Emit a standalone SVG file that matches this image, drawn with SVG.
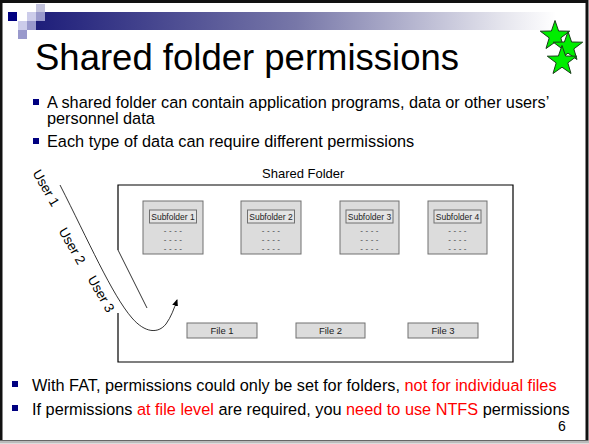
<svg xmlns="http://www.w3.org/2000/svg" width="589" height="444" viewBox="0 0 589 444">
<style>
text{font-family:"Liberation Sans",Arial,sans-serif;fill:#000}
.title{font-size:36.5px}
.b{font-size:16.3px}
.red{fill:#ff0000}
.sf{fill:#dcdcdc;stroke:#707070;stroke-width:1}
.lbl{fill:#e4e4e4;stroke:#707070;stroke-width:1}
.small{font-size:8.5px;fill:#222}
.dash{font-size:8px;fill:#333;letter-spacing:2.5px}
.file{font-size:9.5px;fill:#222}
.user{font-size:13.5px}
.bul{fill:#000080}
.conn{fill:none;stroke:#000;stroke-width:0.8}
</style>
<defs>
<linearGradient id="bar" x1="0" y1="0" x2="1" y2="0">
<stop offset="0" stop-color="#1e1e7a"/>
<stop offset="0.5" stop-color="#7777a8"/>
<stop offset="0.9" stop-color="#e6e6ee"/>
<stop offset="1" stop-color="#ffffff"/>
</linearGradient>
<marker id="arr" markerWidth="8" markerHeight="8" refX="6" refY="4" orient="auto" markerUnits="userSpaceOnUse">
<path d="M0,1 L7,4 L0,7 Z" fill="#000"/>
</marker>
<polygon id="star" points="0,-15.5 3.6,-5 14.7,-4.8 5.8,1.9 9,12.5 0,6.2 -9,12.5 -5.8,1.9 -14.7,-4.8 -3.6,-5" fill="#00ee00" stroke="#1a3a1a" stroke-width="1"/>
</defs>
<rect x="0" y="0" width="589" height="444" fill="#fff"/>
<rect x="1" y="1.5" width="586" height="440" fill="none" stroke="#111" stroke-width="3"/>
<line x1="0" y1="442" x2="589" y2="442" stroke="#bbb" stroke-width="3"/>

<g id="decor">
<rect x="36" y="12" width="520" height="18" fill="url(#bar)"/>
<rect x="8" y="12" width="9" height="9" fill="#000080"/>
<rect x="36" y="4" width="9" height="8" fill="#c4c4dd"/>
<rect x="27" y="12" width="9" height="9" fill="#ccccea"/>
<rect x="36" y="12" width="9" height="9" fill="#9999cc"/>
<rect x="18" y="21" width="9" height="9" fill="#ccccea"/>
<rect x="27" y="21" width="9" height="9" fill="#9999cc"/>
<rect x="18" y="30" width="9" height="9" fill="#9999cc"/>
</g>

<text class="title" x="35" y="70">Shared folder permissions</text>

<g id="stars">
<use href="#star" x="555" y="36"/>
<use href="#star" x="568" y="47"/>
<use href="#star" x="562" y="61"/>
</g>

<g id="bullets-top">
<rect class="bul" x="33" y="99" width="6" height="6"/>
<text class="b" x="47" y="108">A shared folder can contain application programs, data or other users’</text>
<text class="b" x="47" y="124">personnel data</text>
<rect class="bul" x="33" y="138" width="6" height="6"/>
<text class="b" x="47" y="147">Each type of data can require different permissions</text>
</g>

<g id="shared-folder">
<text x="262" y="178" font-size="13">Shared Folder</text>
<path d="M118,250 L118,185 L513,185 L513,362 L118,362 L118,313" fill="none" stroke="#000" stroke-width="1.2"/>
<line x1="118" y1="250" x2="147" y2="308" stroke="#000" stroke-width="0.8"/>
</g>

<g id="subfolder1">
<rect class="sf" x="143" y="201" width="60" height="53"/>
<rect class="lbl" x="149.5" y="210" width="47" height="13"/>
<text class="small" x="173" y="219.5" text-anchor="middle">Subfolder 1</text>
<text class="dash" x="174.2" y="233" text-anchor="middle">----</text>
<text class="dash" x="174.2" y="242" text-anchor="middle">----</text>
<text class="dash" x="174.2" y="251" text-anchor="middle">----</text>
</g>
<g id="subfolder2">
<rect class="sf" x="241" y="201" width="60" height="53"/>
<rect class="lbl" x="247.5" y="210" width="47" height="13"/>
<text class="small" x="271" y="219.5" text-anchor="middle">Subfolder 2</text>
<text class="dash" x="272.2" y="233" text-anchor="middle">----</text>
<text class="dash" x="272.2" y="242" text-anchor="middle">----</text>
<text class="dash" x="272.2" y="251" text-anchor="middle">----</text>
</g>
<g id="subfolder3">
<rect class="sf" x="340" y="201" width="59" height="53"/>
<rect class="lbl" x="346" y="210" width="47" height="13"/>
<text class="small" x="369.5" y="219.5" text-anchor="middle">Subfolder 3</text>
<text class="dash" x="370.7" y="233" text-anchor="middle">----</text>
<text class="dash" x="370.7" y="242" text-anchor="middle">----</text>
<text class="dash" x="370.7" y="251" text-anchor="middle">----</text>
</g>
<g id="subfolder4">
<rect class="sf" x="428" y="201" width="59" height="53"/>
<rect class="lbl" x="434" y="210" width="47" height="13"/>
<text class="small" x="457.5" y="219.5" text-anchor="middle">Subfolder 4</text>
<text class="dash" x="458.7" y="233" text-anchor="middle">----</text>
<text class="dash" x="458.7" y="242" text-anchor="middle">----</text>
<text class="dash" x="458.7" y="251" text-anchor="middle">----</text>
</g>

<g id="file1">
<rect class="sf" x="187" y="323" width="70" height="15"/>
<text class="file" x="222" y="334" text-anchor="middle">File 1</text>
</g>
<g id="file2">
<rect class="sf" x="296" y="323" width="69" height="15"/>
<text class="file" x="330.5" y="334" text-anchor="middle">File 2</text>
</g>
<g id="file3">
<rect class="sf" x="408" y="323" width="70" height="15"/>
<text class="file" x="443" y="334" text-anchor="middle">File 3</text>
</g>

<g id="users">
<text class="user" transform="translate(46,188) rotate(60)" x="0" y="4.5" text-anchor="middle">User 1</text>
<text class="user" transform="translate(72,246) rotate(60)" x="0" y="4.5" text-anchor="middle">User 2</text>
<text class="user" transform="translate(101,294) rotate(60)" x="0" y="4.5" text-anchor="middle">User 3</text>
</g>

<g id="connectors">
<path class="conn" d="M60,185 C88,240 112,295 132,318 C145,333 158,334 166,324 C171,317 174,309 177,300" marker-end="url(#arr)"/>
</g>

<g id="bullets-bottom">
<rect class="bul" x="12" y="381" width="6" height="6"/>
<text class="b" x="32" y="391">With FAT, permissions could only be set for folders, <tspan class="red">not for individual files</tspan></text>
<rect class="bul" x="12" y="405" width="6" height="6"/>
<text class="b" x="32" y="415">If permissions <tspan class="red">at file level</tspan> are required, you <tspan class="red">need to use NTFS</tspan> permissions</text>
<text x="562" y="431" font-size="14" text-anchor="middle">6</text>
</g>
</svg>
